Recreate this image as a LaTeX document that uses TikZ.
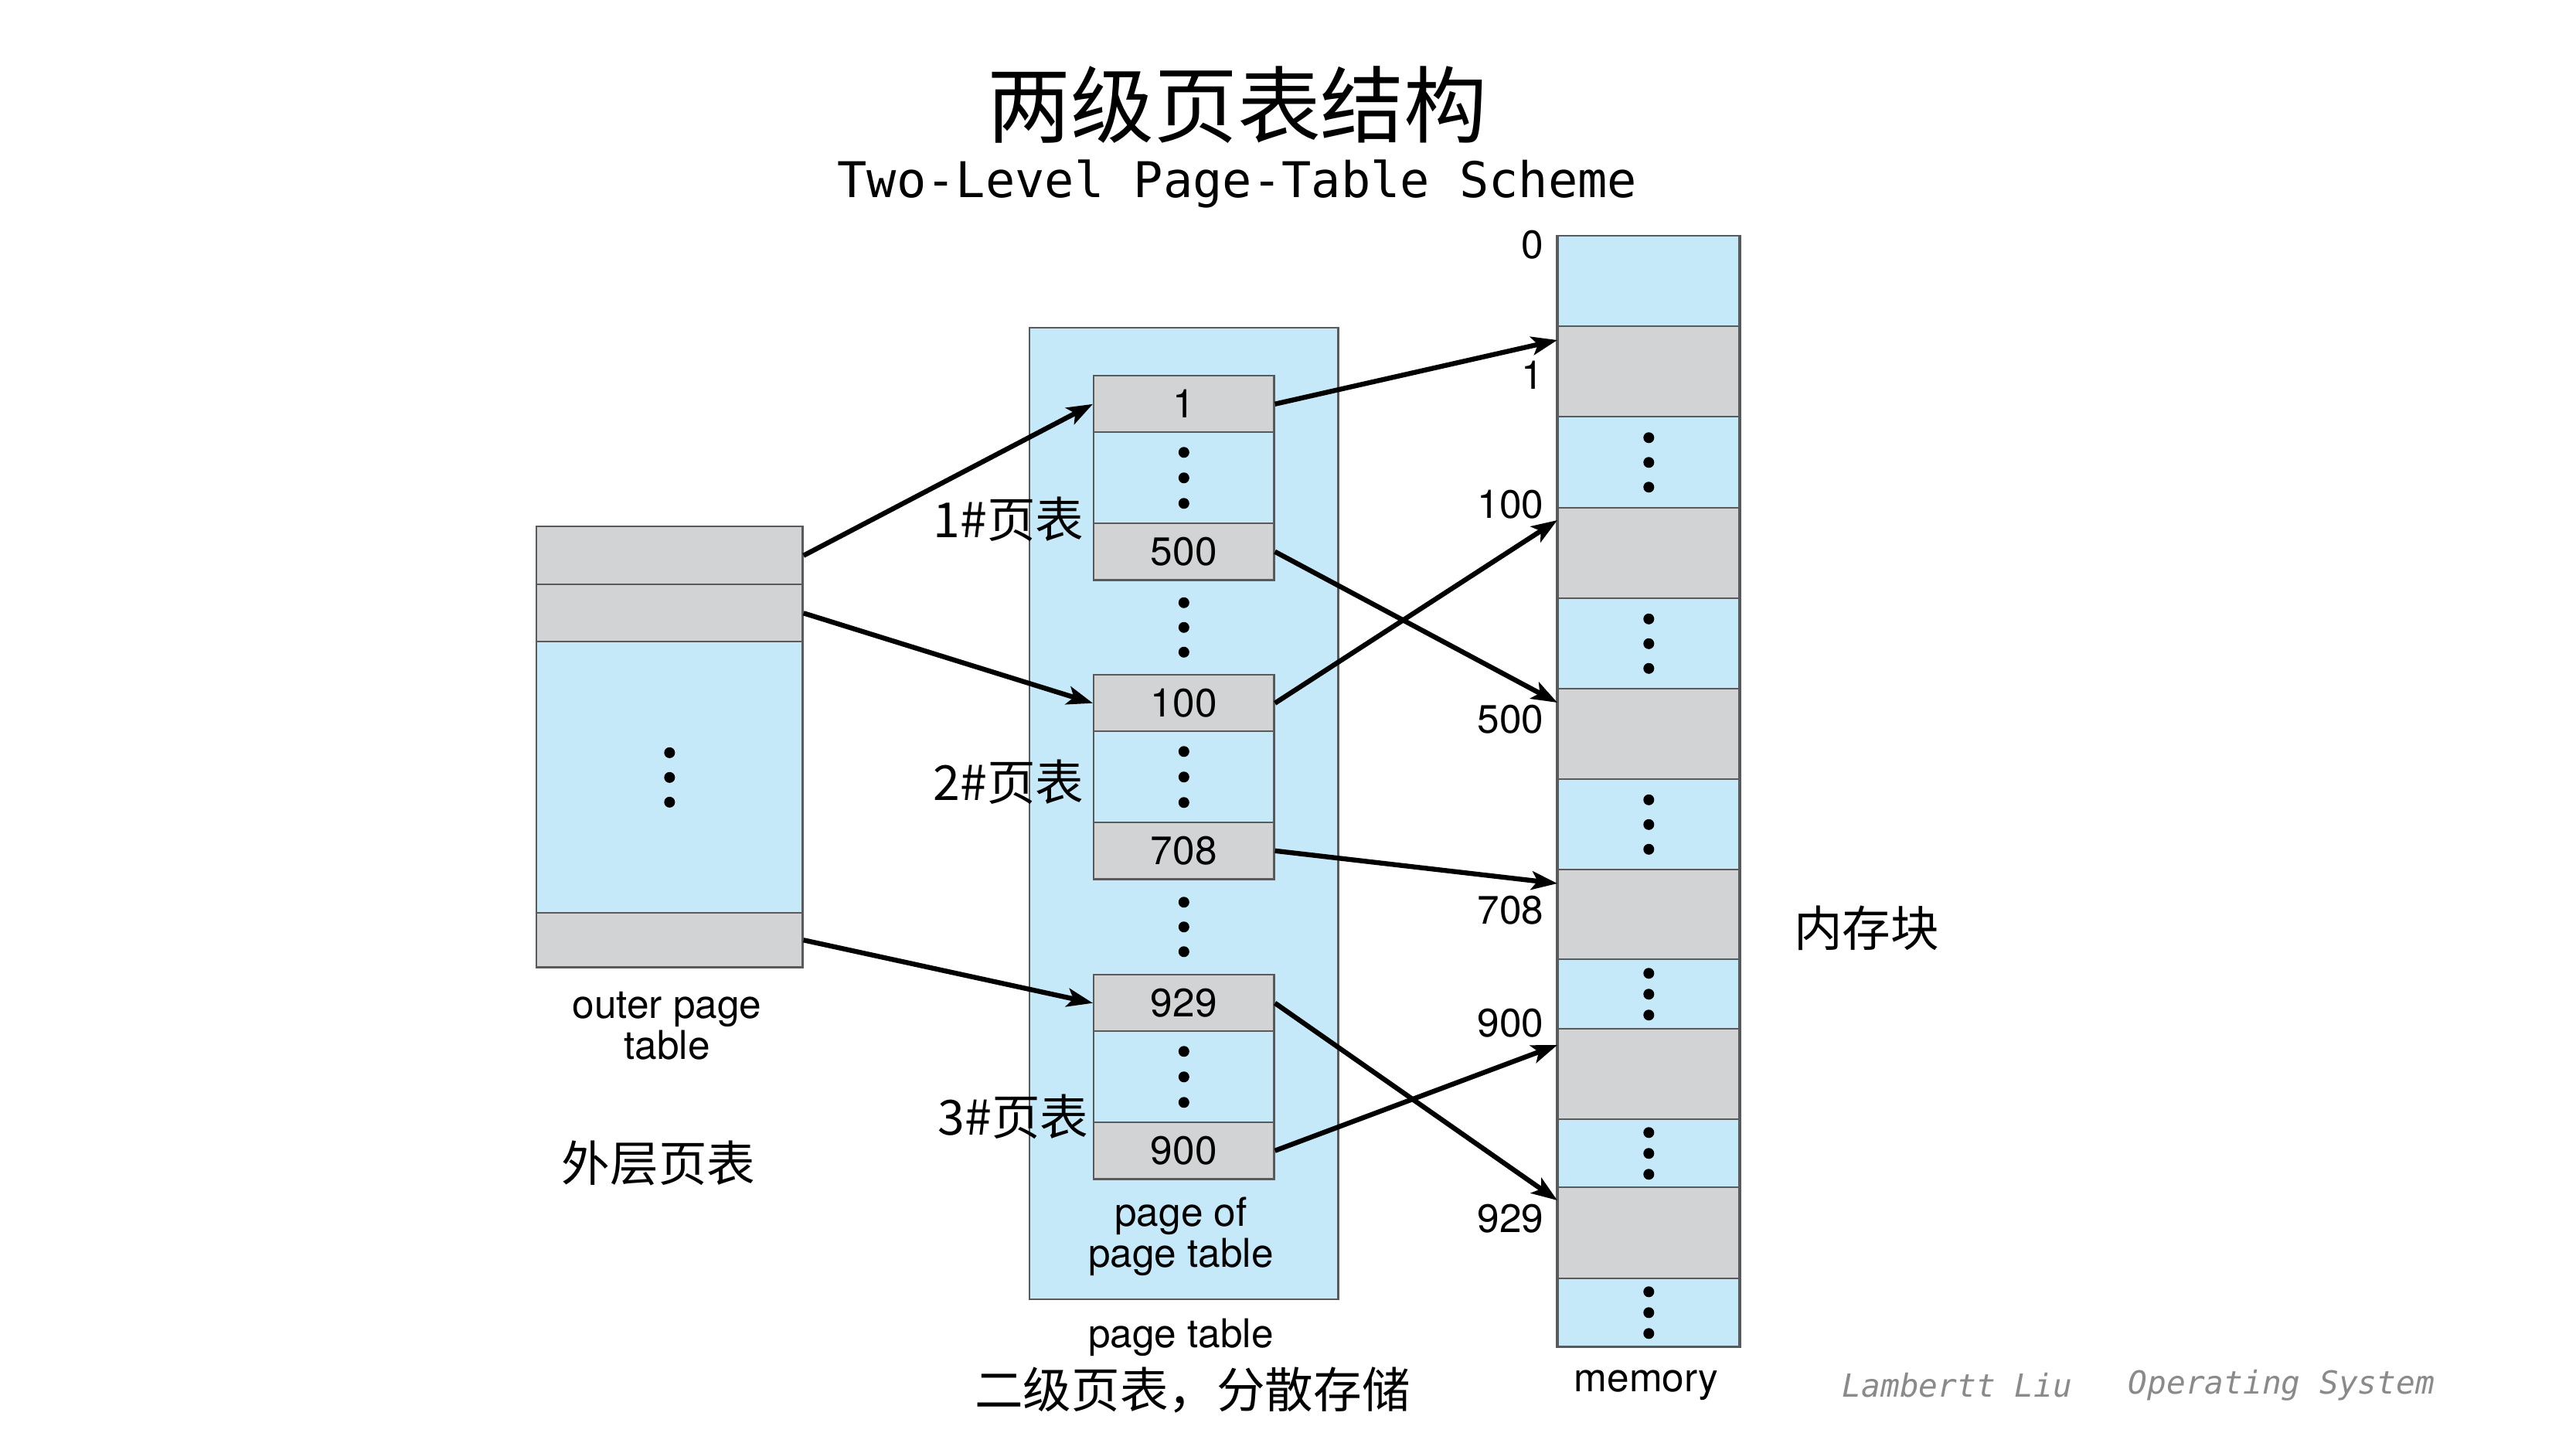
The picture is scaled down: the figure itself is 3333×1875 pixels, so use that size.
\documentclass[tikz,border=0pt]{standalone}
\usepackage{fontspec}
\setmainfont{TeX Gyre Heros}
\newfontfamily\cjk{Noto Sans CJK SC}
\newfontfamily\monof{DejaVu Sans Mono}
\usetikzlibrary{arrows.meta,calc}
\definecolor{cblue}{HTML}{C6E9FA}
\definecolor{cgray}{HTML}{D1D3D4}
\definecolor{cborder}{HTML}{595A5C}
\definecolor{cfoot}{HTML}{8A8A8A}
\newcommand\tridots[2]{\foreach \k in {-1,0,1}{\fill ($(#1)+(0,{\k*#2})$) circle[radius=0.07cm];}}
\begin{document}
\begin{tikzpicture}[x=0.01cm,y=-0.01cm,
  cellb/.style={draw=cborder,line width=0.7pt,fill=cblue,inner sep=0,anchor=north west},
  cellg/.style={draw=cborder,line width=0.7pt,fill=cgray,inner sep=0,anchor=north west,font=\fontsize{14.6}{17}\selectfont},
  lab/.style={font=\fontsize{14.6}{15.1}\selectfont,inner sep=0,align=center},
  cjkl/.style={font=\cjk\fontsize{17.8}{20}\selectfont,inner sep=0},
  foot/.style={font=\monof\itshape\fontsize{11.7}{13}\selectfont,text=cfoot,anchor=west,inner sep=0},
  ptr/.style={-{Stealth[length=9.5pt,width=6.8pt,inset=2.2pt]},line width=1.8pt,black},
]
\useasboundingbox (0,0) rectangle (3333,1875);
\fill[white] (0,0) rectangle (3333,1875);

% titles
\node[font=\cjk\fontsize{30.7}{34}\selectfont,inner sep=0] (title) at (1601,136) {两级页表结构};
\node[font=\monof\fontsize{18.1}{20}\selectfont,inner sep=0] (sub) at (1601,238) {Two-Level Page-Table Scheme};

% outer page table
\node[cellg,minimum width=3.44cm,minimum height=0.75cm] (o1) at (693,680) {};
\node[cellg,minimum width=3.44cm,minimum height=0.74cm] (o2) at (693,755) {};
\node[cellb,minimum width=3.44cm,minimum height=3.51cm] (o3) at (693,829) {};
\node[cellg,minimum width=3.44cm,minimum height=0.70cm] (o4) at (693,1180) {};
\tridots{o3.center}{32}

% page table box
\node[cellb,minimum width=3.99cm,minimum height=12.56cm] (pt) at (1331,423) {};

% table 1
\node[cellg,minimum width=2.33cm,minimum height=0.73cm] (t1a) at (1414,485) {1};
\node[cellb,minimum width=2.33cm,minimum height=1.18cm] (t1b) at (1414,558) {};
\node[cellg,minimum width=2.33cm,minimum height=0.73cm] (t1c) at (1414,676) {500};
% table 2
\node[cellg,minimum width=2.33cm,minimum height=0.73cm] (t2a) at (1414,872) {100};
\node[cellb,minimum width=2.33cm,minimum height=1.18cm] (t2b) at (1414,945) {};
\node[cellg,minimum width=2.33cm,minimum height=0.73cm] (t2c) at (1414,1063) {708};
% table 3
\node[cellg,minimum width=2.33cm,minimum height=0.73cm] (t3a) at (1414,1260) {929};
\node[cellb,minimum width=2.33cm,minimum height=1.18cm] (t3b) at (1414,1333) {};
\node[cellg,minimum width=2.33cm,minimum height=0.73cm] (t3c) at (1414,1451) {900};
\tridots{t1b.center}{33}
\tridots{t2b.center}{33}
\tridots{t3b.center}{33}
\coordinate (g12) at ($(t1c.south)!0.5!(t2a.north)$);
\coordinate (g23) at ($(t2c.south)!0.5!(t3a.north)$);
\tridots{g12}{32}
\tridots{g23}{32}

% memory
\node[cellb,minimum width=2.34cm,minimum height=1.17cm] (m0) at (2015,304) {};
\node[cellg,minimum width=2.34cm,minimum height=1.17cm] (m1) at (2015,421) {};
\node[cellb,minimum width=2.34cm,minimum height=1.18cm] (d1) at (2015,538) {};
\node[cellg,minimum width=2.34cm,minimum height=1.17cm] (m100) at (2015,656) {};
\node[cellb,minimum width=2.34cm,minimum height=1.17cm] (d2) at (2015,773) {};
\node[cellg,minimum width=2.34cm,minimum height=1.17cm] (m500) at (2015,890) {};
\node[cellb,minimum width=2.34cm,minimum height=1.17cm] (d3) at (2015,1007) {};
\node[cellg,minimum width=2.34cm,minimum height=1.16cm] (m708) at (2015,1124) {};
\node[cellb,minimum width=2.34cm,minimum height=0.90cm] (d4) at (2015,1240) {};
\node[cellg,minimum width=2.34cm,minimum height=1.17cm] (m900) at (2015,1330) {};
\node[cellb,minimum width=2.34cm,minimum height=0.88cm] (d5) at (2015,1447) {};
\node[cellg,minimum width=2.34cm,minimum height=1.18cm] (m929) at (2015,1535) {};
\node[cellb,minimum width=2.34cm,minimum height=0.88cm] (d6) at (2015,1653) {};
\draw[cborder,line width=1pt] (m0.north west) -- (d6.south west) (m0.north east) -- (d6.south east);
\tridots{d1.center}{32}
\tridots{d2.center}{32}
\tridots{d3.center}{32}
\tridots{d4.center}{27}
\tridots{d5.center}{27}
\tridots{d6.center}{27}

% memory addresses
\node[lab,anchor=east] (a0) at (1998,317) {0};
\node[lab,anchor=east] (a1) at (1998,485) {1};
\node[lab,anchor=east] (a100) at (1998,653) {100};
\node[lab,anchor=east] (a500) at (1998,931) {500};
\node[lab,anchor=east] (a708) at (1998,1178) {708};
\node[lab,anchor=east] (a900) at (1998,1324) {900};
\node[lab,anchor=east] (a929) at (1998,1577) {929};

% arrows
\draw[ptr] (o1.east) -- (t1a.west);
\draw[ptr] (o2.east) -- (t2a.west);
\draw[ptr] (o4.east) -- (t3a.west);
\draw[ptr] (t1a.east) -- ($(m1.north west)+(0,19)$);
\draw[ptr] (t1c.east) -- ($(m500.north west)+(0,19)$);
\draw[ptr] (t2a.east) -- ($(m100.north west)+(0,17)$);
\draw[ptr] (t2c.east) -- ($(m708.north west)+(0,19)$);
\draw[ptr] (t3a.east) -- ($(m929.north west)+(0,18)$);
\draw[ptr] (t3c.east) -- ($(m900.north west)+(0,22)$);

% english labels
\node[lab] (outerlab) at (863,1327) {outer page\\table};
\node[lab] (poplab) at (1528,1600) {page of\\page table};
\node[lab] (ptlab) at (1528,1730) {page table};
\node[lab] (memlab) at (2130,1792) {memory};

% chinese labels
\node[cjkl] (c1) at (1305,672) {1\#页表};
\node[cjkl] (c2) at (1305,1012) {2\#页表};
\node[cjkl] (c3) at (1311,1445) {3\#页表};
\node[cjkl] (cout) at (852,1505) {外层页表};
\node[cjkl] (cmem) at (2415,1201) {内存块};
\node[cjkl] (cpt) at (1543,1798) {二级页表，分散存储};

% footer
\node[foot] (f1) at (2383,1792) {Lambertt Liu};
\node[foot] (f2) at (2753,1792) {Operating System};
\end{tikzpicture}
\end{document}
